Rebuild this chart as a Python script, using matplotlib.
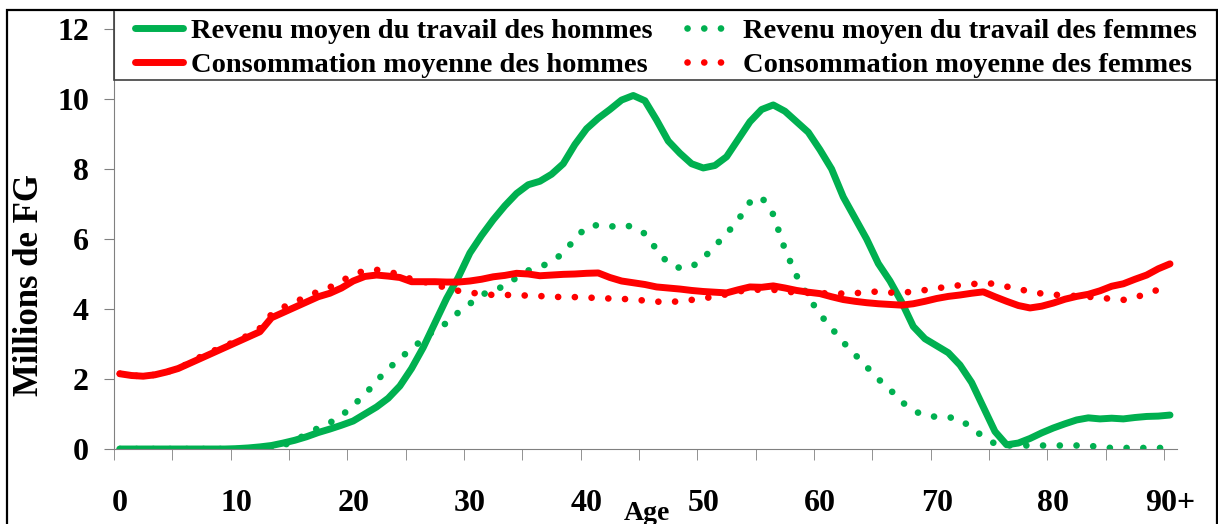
import matplotlib
matplotlib.use('Agg')
import matplotlib.pyplot as plt
from matplotlib.lines import Line2D
from matplotlib.patches import Rectangle
import numpy as np

plt.rcParams['font.family'] = ['Liberation Serif', 'DejaVu Serif']
plt.rcParams['font.weight'] = 'bold'

# Ages 0..90 (90 = 90+)
ages = list(range(91))

revenu_hommes = [0, 0, 0, 0, 0, 0, 0, 0, 0, 0,
                 0.01, 0.03, 0.06, 0.1, 0.17, 0.25, 0.35, 0.47, 0.57, 0.68,
                 0.8, 1.0, 1.2, 1.45, 1.8, 2.3, 2.9, 3.6, 4.3, 4.9,
                 5.6, 6.1, 6.55, 6.95, 7.3, 7.55, 7.65, 7.85, 8.15, 8.7,
                 9.15, 9.45, 9.7, 9.97, 10.1, 9.95, 9.4, 8.8, 8.45, 8.15,
                 8.03, 8.1, 8.35, 8.85, 9.35, 9.7, 9.83, 9.65, 9.35, 9.05,
                 8.55, 8.0, 7.2, 6.6, 6.0, 5.3, 4.8, 4.2, 3.5, 3.15,
                 2.95, 2.75, 2.4, 1.9, 1.2, 0.5, 0.12, 0.17, 0.3, 0.46,
                 0.6, 0.72, 0.83, 0.89, 0.86, 0.88, 0.86, 0.9, 0.93, 0.94,
                 0.97]

revenu_femmes = [0, 0, 0, 0, 0, 0, 0, 0, 0, 0,
                 0, 0, 0, 0, 0.1, 0.25, 0.42, 0.6, 0.75, 0.95,
                 1.25, 1.55, 1.95, 2.28, 2.6, 2.85, 3.15, 3.4, 3.6, 3.9,
                 4.15, 4.4, 4.55, 4.65, 4.9, 5.1, 5.2, 5.35, 5.6, 6.0,
                 6.35, 6.4, 6.35, 6.4, 6.35, 6.15, 5.7, 5.3, 5.17, 5.2,
                 5.45, 5.8, 6.15, 6.55, 7.05, 7.2, 6.7, 5.7, 4.95, 4.35,
                 3.85, 3.45, 3.05, 2.7, 2.35, 2.0, 1.7, 1.35, 1.1, 0.95,
                 0.92, 0.91, 0.85, 0.6, 0.35, 0.15, 0.1, 0.1, 0.1, 0.1,
                 0.1, 0.1, 0.1, 0.1, 0.05, 0.03, 0.03, 0.03, 0.03, 0.03,
                 0.03]

conso_hommes = [2.15, 2.1, 2.08, 2.12, 2.2, 2.3, 2.45, 2.6, 2.75, 2.9,
                3.05, 3.2, 3.35, 3.75, 3.9, 4.05, 4.2, 4.35, 4.45, 4.6,
                4.8, 4.93, 4.97, 4.94, 4.9, 4.78, 4.78, 4.78, 4.77, 4.77,
                4.8, 4.85, 4.92, 4.96, 5.02, 5.0, 4.95, 4.97, 4.99, 5.0,
                5.02, 5.03, 4.9, 4.8, 4.75, 4.7, 4.63, 4.6, 4.57, 4.53,
                4.5, 4.48, 4.46, 4.55, 4.63, 4.62, 4.66, 4.6, 4.53, 4.48,
                4.44, 4.35, 4.27, 4.22, 4.18, 4.15, 4.13, 4.11, 4.15, 4.22,
                4.3, 4.36, 4.4, 4.45, 4.49, 4.35, 4.22, 4.1, 4.03, 4.08,
                4.17, 4.28, 4.36, 4.42, 4.52, 4.65, 4.72, 4.85, 4.97, 5.15,
                5.29]

conso_femmes = [2.15, 2.1, 2.08, 2.12, 2.2, 2.3, 2.47, 2.65, 2.8, 2.95,
                3.08, 3.25, 3.45, 3.85, 4.05, 4.2, 4.35, 4.5, 4.62, 4.8,
                4.98, 5.1, 5.12, 5.07, 4.98, 4.85, 4.78, 4.7, 4.6, 4.52,
                4.47, 4.43, 4.4, 4.4, 4.4, 4.38, 4.37, 4.35, 4.34, 4.34,
                4.33, 4.31, 4.3, 4.29, 4.27, 4.24, 4.21, 4.2, 4.22, 4.26,
                4.3, 4.36, 4.42, 4.5, 4.55, 4.55, 4.55, 4.5, 4.47, 4.46,
                4.45, 4.45, 4.44, 4.45, 4.48, 4.5, 4.47, 4.46, 4.5, 4.54,
                4.59, 4.64, 4.68, 4.71, 4.74, 4.72, 4.64, 4.57, 4.5, 4.44,
                4.41, 4.39, 4.37, 4.35, 4.32, 4.29, 4.26, 4.32, 4.45, 4.55]

xtick_pos = [0, 10, 20, 30, 40, 50, 60, 70, 80, 90]
xtick_labels = ['0', '10', '20', '30', '40', '50', '60', '70', '80', '90+']
ytick_pos = [0, 2, 4, 6, 8, 10, 12]

green = '#00B050'
red = '#FF0000'
W, H = 1218, 524

fig = plt.figure(figsize=(W / 100, H / 100), dpi=100)
ax = fig.add_axes([114 / W, (H - 449) / H, (1177 - 114) / W, (449 - 11.5) / H])

dot = (0, (0.01, 2.5))
ax.plot(ages, revenu_hommes, color=green, lw=5, solid_capstyle='round', solid_joinstyle='round')
ax.plot(ages, revenu_femmes, color=green, lw=4.8, linestyle=dot, dash_capstyle='round')
ax.plot(ages, conso_hommes, color=red, lw=5, solid_capstyle='round', solid_joinstyle='round')
ax.plot(ages[:len(conso_femmes)], conso_femmes, color=red, lw=4.8, linestyle=dot, dash_capstyle='round')

ax.set_xlim(-0.5, 90.6)
ax.set_ylim(0, 12.5)
ax.spines['top'].set_visible(False)
ax.spines['right'].set_visible(False)
ax.spines['left'].set_color('#808080')
ax.spines['bottom'].set_color('#808080')

ax.set_xticks(xtick_pos)
ax.set_xticklabels(xtick_labels, fontsize=23, fontweight='bold')
ax.set_xticks(np.arange(-0.5, 90, 5), minor=True)
ax.tick_params(axis='x', which='major', length=0, pad=29)
ax.tick_params(axis='x', which='minor', direction='out', length=8, color='#808080')
ax.set_yticks(ytick_pos)
ax.set_yticklabels([str(v) for v in ytick_pos], fontsize=23, fontweight='bold')
ax.tick_params(axis='y', direction='out', length=7, pad=11, color='#808080')

fig.text(30 / W, 1 - 285 / H, 'Millions de FG', rotation=90, fontsize=25,
         fontweight='bold', ha='center', va='center')
fig.text(647 / W, 1 - 520 / H, 'Age', fontsize=20, fontweight='bold',
         ha='center', va='baseline')

# legend box and outer frame
fig.add_artist(Rectangle((114 / W, 1 - 80 / H), (1217 - 114) / W, 70 / H,
                         transform=fig.transFigure, fill=False, ec='#404040', lw=1.2))
fig.add_artist(Rectangle((7 / W, -0.05), (1217 - 7) / W, 1 - 10 / H + 0.05,
                         transform=fig.transFigure, fill=False, ec='black', lw=1.6,
                         clip_on=False))

# column-wise order so rows read: revenus, then consommation
handles = [Line2D([], [], color=green, lw=5, solid_capstyle='round'),
           Line2D([], [], color=red, lw=5, solid_capstyle='round'),
           Line2D([], [], color=green, lw=4.8, linestyle=dot, dash_capstyle='round'),
           Line2D([], [], color=red, lw=4.8, linestyle=dot, dash_capstyle='round')]
labels = ['Revenu moyen du travail des hommes', 'Consommation moyenne des hommes',
          'Revenu moyen du travail des femmes', 'Consommation moyenne des femmes']
fig.legend(handles, labels, ncol=2, loc='upper left', bbox_to_anchor=(135 / W, 1 - 18 / H),
           frameon=False, borderpad=0, borderaxespad=0, handlelength=1.7,
           handletextpad=0.27, columnspacing=1.2, labelspacing=0.27,
           prop={'size': 20.5, 'weight': 'bold'})

fig.savefig('out.png', dpi=100)
